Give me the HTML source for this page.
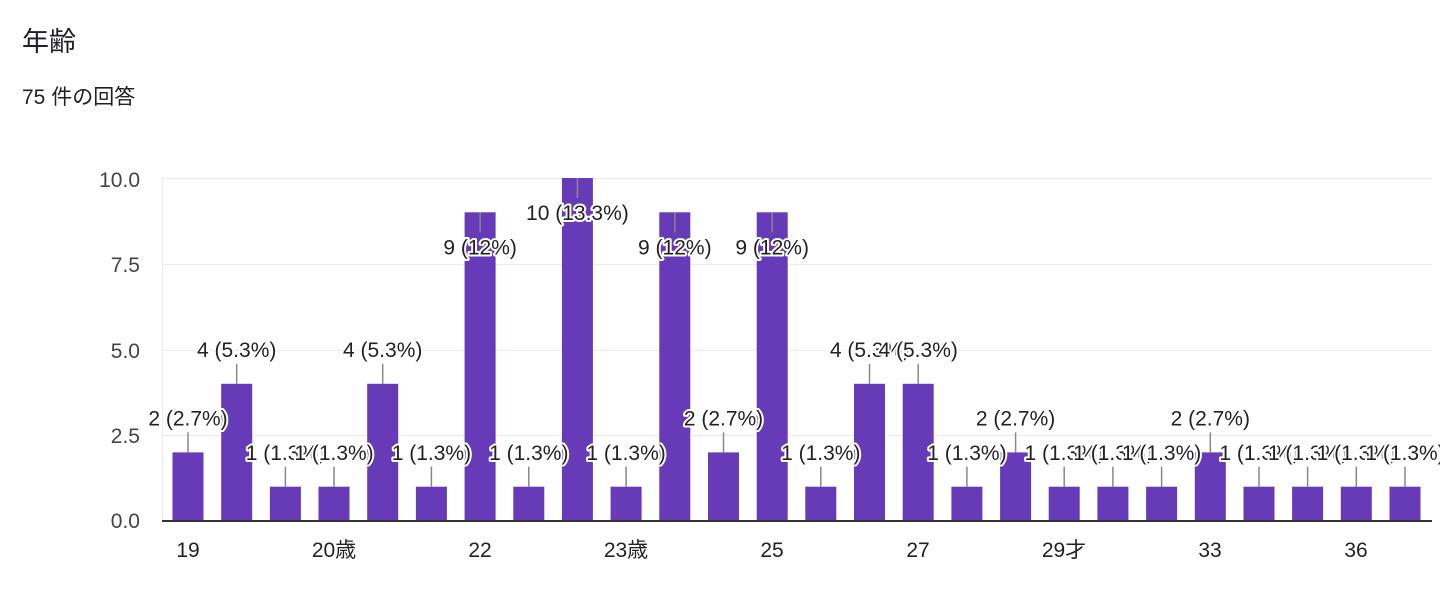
<!DOCTYPE html>
<html><head><meta charset="utf-8"><style>
body{margin:0;background:#fff;width:1440px;height:598px;overflow:hidden;font-family:"Liberation Sans","Noto Sans CJK JP",sans-serif}
.b{fill:#673ab7}
.l{stroke:#888;stroke-width:1.5}
.t{font-size:21px;fill:#222;stroke:#fff;stroke-width:4px;paint-order:stroke;stroke-linejoin:round;text-anchor:middle}
</style></head><body>
<svg width="1440" height="598" xmlns="http://www.w3.org/2000/svg" font-family="Liberation Sans, Noto Sans CJK JP, sans-serif">
<text x="22" y="51" font-size="27" fill="#202124">年齢</text>
<text x="22" y="104" font-size="21" fill="#202124">75 件の回答</text>
<g stroke="#ebebeb" stroke-width="1">
<line x1="162" x2="1432" y1="178.5" y2="178.5"/>
<line x1="162" x2="1432" y1="264.5" y2="264.5"/>
<line x1="162" x2="1432" y1="350.5" y2="350.5"/>
<line x1="162" x2="1432" y1="435.5" y2="435.5"/>
<line x1="162.5" x2="162.5" y1="178" y2="521"/>
</g>
<g font-size="21" fill="#444" text-anchor="end">
<text x="140" y="187">10.0</text><text x="140" y="272">7.5</text><text x="140" y="358">5.0</text><text x="140" y="443">2.5</text><text x="140" y="528">0.0</text>
</g>
<g>
<rect class="b" x="172.5" y="452.4" width="31" height="68.6"/>
<rect class="b" x="221.2" y="383.8" width="31" height="137.2"/>
<rect class="b" x="269.9" y="486.7" width="31" height="34.3"/>
<rect class="b" x="318.5" y="486.7" width="31" height="34.3"/>
<rect class="b" x="367.2" y="383.8" width="31" height="137.2"/>
<rect class="b" x="415.9" y="486.7" width="31" height="34.3"/>
<rect class="b" x="464.6" y="212.3" width="31" height="308.7"/>
<rect class="b" x="513.3" y="486.7" width="31" height="34.3"/>
<rect class="b" x="561.9" y="178" width="31" height="343"/>
<rect class="b" x="610.6" y="486.7" width="31" height="34.3"/>
<rect class="b" x="659.3" y="212.3" width="31" height="308.7"/>
<rect class="b" x="708" y="452.4" width="31" height="68.6"/>
<rect class="b" x="756.7" y="212.3" width="31" height="308.7"/>
<rect class="b" x="805.3" y="486.7" width="31" height="34.3"/>
<rect class="b" x="854" y="383.8" width="31" height="137.2"/>
<rect class="b" x="902.7" y="383.8" width="31" height="137.2"/>
<rect class="b" x="951.4" y="486.7" width="31" height="34.3"/>
<rect class="b" x="1000.1" y="452.4" width="31" height="68.6"/>
<rect class="b" x="1048.7" y="486.7" width="31" height="34.3"/>
<rect class="b" x="1097.4" y="486.7" width="31" height="34.3"/>
<rect class="b" x="1146.1" y="486.7" width="31" height="34.3"/>
<rect class="b" x="1194.8" y="452.4" width="31" height="68.6"/>
<rect class="b" x="1243.5" y="486.7" width="31" height="34.3"/>
<rect class="b" x="1292.1" y="486.7" width="31" height="34.3"/>
<rect class="b" x="1340.8" y="486.7" width="31" height="34.3"/>
<rect class="b" x="1389.5" y="486.7" width="31" height="34.3"/>
</g>
<line x1="162" x2="1432" y1="521" y2="521" stroke="#333" stroke-width="2"/>
<g>
<line class="l" x1="188" x2="188" y1="452.4" y2="432.4"/><text class="t" x="188" y="425.5">2 (2.7%)</text>
<line class="l" x1="236.7" x2="236.7" y1="383.8" y2="363.8"/><text class="t" x="236.7" y="357">4 (5.3%)</text>
<line class="l" x1="285.4" x2="285.4" y1="486.7" y2="466.7"/><text class="t" x="285.4" y="460">1 (1.3%)</text>
<line class="l" x1="334" x2="334" y1="486.7" y2="466.7"/><text class="t" x="334" y="460">1 (1.3%)</text>
<line class="l" x1="382.7" x2="382.7" y1="383.8" y2="363.8"/><text class="t" x="382.7" y="357">4 (5.3%)</text>
<line class="l" x1="431.4" x2="431.4" y1="486.7" y2="466.7"/><text class="t" x="431.4" y="460">1 (1.3%)</text>
<line class="l" x1="480.1" x2="480.1" y1="212.3" y2="232.3"/><text class="t" x="480.1" y="254.5">9 (12%)</text>
<line class="l" x1="528.8" x2="528.8" y1="486.7" y2="466.7"/><text class="t" x="528.8" y="460">1 (1.3%)</text>
<line class="l" x1="577.4" x2="577.4" y1="178" y2="198"/><text class="t" x="577.4" y="220">10 (13.3%)</text>
<line class="l" x1="626.1" x2="626.1" y1="486.7" y2="466.7"/><text class="t" x="626.1" y="460">1 (1.3%)</text>
<line class="l" x1="674.8" x2="674.8" y1="212.3" y2="232.3"/><text class="t" x="674.8" y="254.5">9 (12%)</text>
<line class="l" x1="723.5" x2="723.5" y1="452.4" y2="432.4"/><text class="t" x="723.5" y="425.5">2 (2.7%)</text>
<line class="l" x1="772.2" x2="772.2" y1="212.3" y2="232.3"/><text class="t" x="772.2" y="254.5">9 (12%)</text>
<line class="l" x1="820.8" x2="820.8" y1="486.7" y2="466.7"/><text class="t" x="820.8" y="460">1 (1.3%)</text>
<line class="l" x1="869.5" x2="869.5" y1="383.8" y2="363.8"/><text class="t" x="869.5" y="357">4 (5.3%)</text>
<line class="l" x1="918.2" x2="918.2" y1="383.8" y2="363.8"/><text class="t" x="918.2" y="357">4 (5.3%)</text>
<line class="l" x1="966.9" x2="966.9" y1="486.7" y2="466.7"/><text class="t" x="966.9" y="460">1 (1.3%)</text>
<line class="l" x1="1015.6" x2="1015.6" y1="452.4" y2="432.4"/><text class="t" x="1015.6" y="425.5">2 (2.7%)</text>
<line class="l" x1="1064.2" x2="1064.2" y1="486.7" y2="466.7"/><text class="t" x="1064.2" y="460">1 (1.3%)</text>
<line class="l" x1="1112.9" x2="1112.9" y1="486.7" y2="466.7"/><text class="t" x="1112.9" y="460">1 (1.3%)</text>
<line class="l" x1="1161.6" x2="1161.6" y1="486.7" y2="466.7"/><text class="t" x="1161.6" y="460">1 (1.3%)</text>
<line class="l" x1="1210.3" x2="1210.3" y1="452.4" y2="432.4"/><text class="t" x="1210.3" y="425.5">2 (2.7%)</text>
<line class="l" x1="1259" x2="1259" y1="486.7" y2="466.7"/><text class="t" x="1259" y="460">1 (1.3%)</text>
<line class="l" x1="1307.6" x2="1307.6" y1="486.7" y2="466.7"/><text class="t" x="1307.6" y="460">1 (1.3%)</text>
<line class="l" x1="1356.3" x2="1356.3" y1="486.7" y2="466.7"/><text class="t" x="1356.3" y="460">1 (1.3%)</text>
<line class="l" x1="1405" x2="1405" y1="486.7" y2="466.7"/><text class="t" x="1405" y="460">1 (1.3%)</text>
</g>
<g font-size="21" fill="#222" text-anchor="middle">
<text x="188" y="557">19</text><text x="334" y="557">20歳</text><text x="480" y="557">22</text><text x="626" y="557">23歳</text><text x="772" y="557">25</text><text x="918" y="557">27</text><text x="1064" y="557">29才</text><text x="1210" y="557">33</text><text x="1356" y="557">36</text>
</g>
</svg>
</body></html>
